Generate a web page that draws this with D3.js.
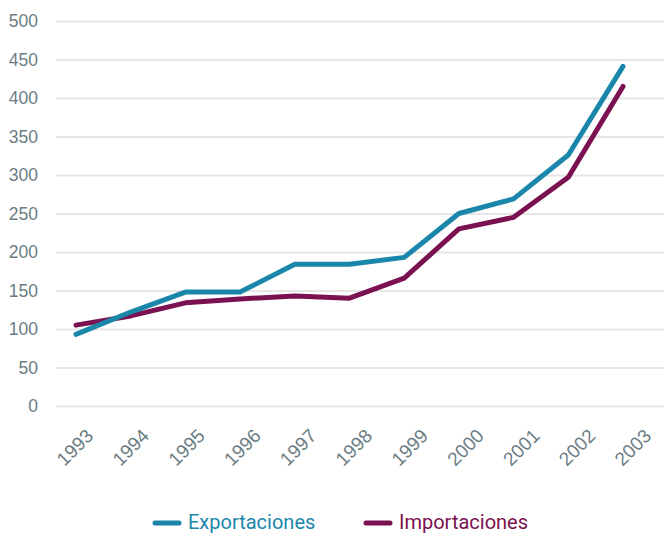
<!DOCTYPE html>
<html>
<head>
<meta charset="utf-8">
<script src="https://cdn.jsdelivr.net/npm/d3@7"></script>
<style>
  body { margin: 0; background: #fff; }
  svg { display: block; font-family: Roboto, sans-serif; }
</style>
</head>
<body>
<div id="chart"></div>
<script>
// data
const years = ['1993','1994','1995','1996','1997','1998','1999','2000','2001','2002','2003'];
const exportaciones = [93, 122, 148, 148, 184, 184, 193, 250, 269, 326, 441];
const importaciones = [105, 117, 134, 139, 143, 140, 166, 230, 245, 297, 415];
const yTicks = [0, 50, 100, 150, 200, 250, 300, 350, 400, 450, 500];

const w = 664;
const h = 533;
const colExp = '#1a87aa';
const colImp = '#7a1150';
const textCol = '#6b7d84';

const svg = d3.select('#chart')
    .append('svg')
    .attr('width', w)
    .attr('height', h);

// scales
const x = d3.scalePoint().domain(years).range([76, 623]);
const xLab = d3.scalePoint().domain(years).range([94, 652]);
const y = d3.scaleLinear().domain([0, 500]).range([406, 21]);

// grid + y labels
const yAxis = d3.axisLeft(y).tickValues(yTicks).tickSize(-(w - 56)).tickPadding(18);
svg.append('g')
    .attr('transform', 'translate(56,0)')
    .call(yAxis)
    .call(g => g.select('.domain').remove())
    .call(g => g.selectAll('line').attr('stroke', '#e6e6e6').attr('stroke-width', 2))
    .call(g => g.selectAll('text').attr('fill', textCol).style('font-size', '17.5px'));

// x labels
const xAxis = d3.axisBottom(xLab).tickSize(0);
svg.append('g')
    .attr('transform', 'translate(0,437)')
    .call(xAxis)
    .call(g => g.select('.domain').remove())
    .call(g => g.selectAll('text')
        .attr('fill', textCol)
        .style('font-size', '19px')
        .attr('text-anchor', 'end')
        .attr('dy', 0)
        .attr('y', 0)
        .attr('transform', 'rotate(-45)'));

// lines
const line = d3.line().x((d, i) => x(years[i])).y(d => y(d));

svg.append('path')
    .datum(importaciones)
    .attr('d', line)
    .attr('fill', 'none')
    .attr('stroke', colImp)
    .attr('stroke-width', 5)
    .attr('stroke-linecap', 'round')
    .attr('stroke-linejoin', 'round');

svg.append('path')
    .datum(exportaciones)
    .attr('d', line)
    .attr('fill', 'none')
    .attr('stroke', colExp)
    .attr('stroke-width', 5)
    .attr('stroke-linecap', 'round')
    .attr('stroke-linejoin', 'round');

// legend
const legend = [
    {name: 'Exportaciones', color: colExp, x: 155},
    {name: 'Importaciones', color: colImp, x: 366}
];
legend.forEach(l => {
    svg.append('line')
        .attr('x1', l.x).attr('x2', l.x + 24)
        .attr('y1', 523).attr('y2', 523)
        .attr('stroke', l.color)
        .attr('stroke-width', 5)
        .attr('stroke-linecap', 'round');
    svg.append('text')
        .attr('x', l.x + 33)
        .attr('y', 529)
        .attr('fill', l.color)
        .style('font-size', '20px')
        .text(l.name);
});
</script>
</body>
</html>
